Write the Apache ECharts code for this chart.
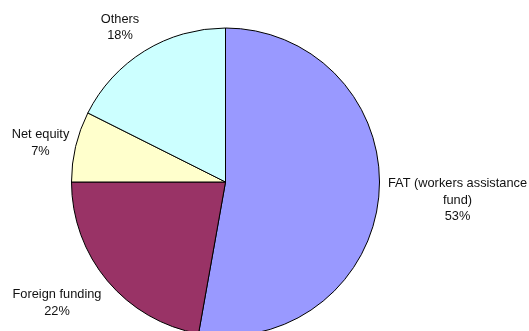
<!DOCTYPE html>
<html><head><meta charset="utf-8">
<script src="https://cdn.jsdelivr.net/npm/echarts@6/dist/echarts.min.js"></script>
<style>html,body{margin:0;padding:0;background:#fff}#c{width:529px;height:331px}</style>
</head><body><div id="c"></div>
<script>
var categories = ['FAT (workers assistance\nfund)', 'Foreign funding', 'Net equity', 'Others'];
var values = [52.8, 22.2, 7.4, 17.6];
var colors = ['#9999FF', '#993366', '#FFFFCC', '#CCFFFF'];
var labelPos = [[457.5, 200], [57, 303], [40.5, 143], [120, 27.5]];

var chart = echarts.init(document.getElementById('c'), null, {renderer: 'canvas'});
chart.setOption({
  animation: false,
  series: [{
    type: 'pie',
    center: [225.5, 182],
    radius: 154,
    startAngle: 90,
    clockwise: true,
    percentPrecision: 0,
    data: categories.map(function (c, i) {
      return {name: c, value: values[i], itemStyle: {color: colors[i]}};
    }),
    itemStyle: {borderColor: '#000', borderWidth: 1},
    label: {
      show: true,
      position: 'outside',
      formatter: '{b}\n{d}%',
      fontFamily: 'Liberation Sans, Arial, sans-serif',
      fontSize: 12.8,
      lineHeight: 16.5,
      color: '#111',
      align: 'center',
      overflow: 'none'
    },
    labelLine: {show: false},
    labelLayout: function (p) {
      var pos = labelPos[p.dataIndex];
      return {x: pos[0], y: pos[1], align: 'center', verticalAlign: 'middle'};
    },
    emphasis: {disabled: true}
  }]
});
</script></body></html>
